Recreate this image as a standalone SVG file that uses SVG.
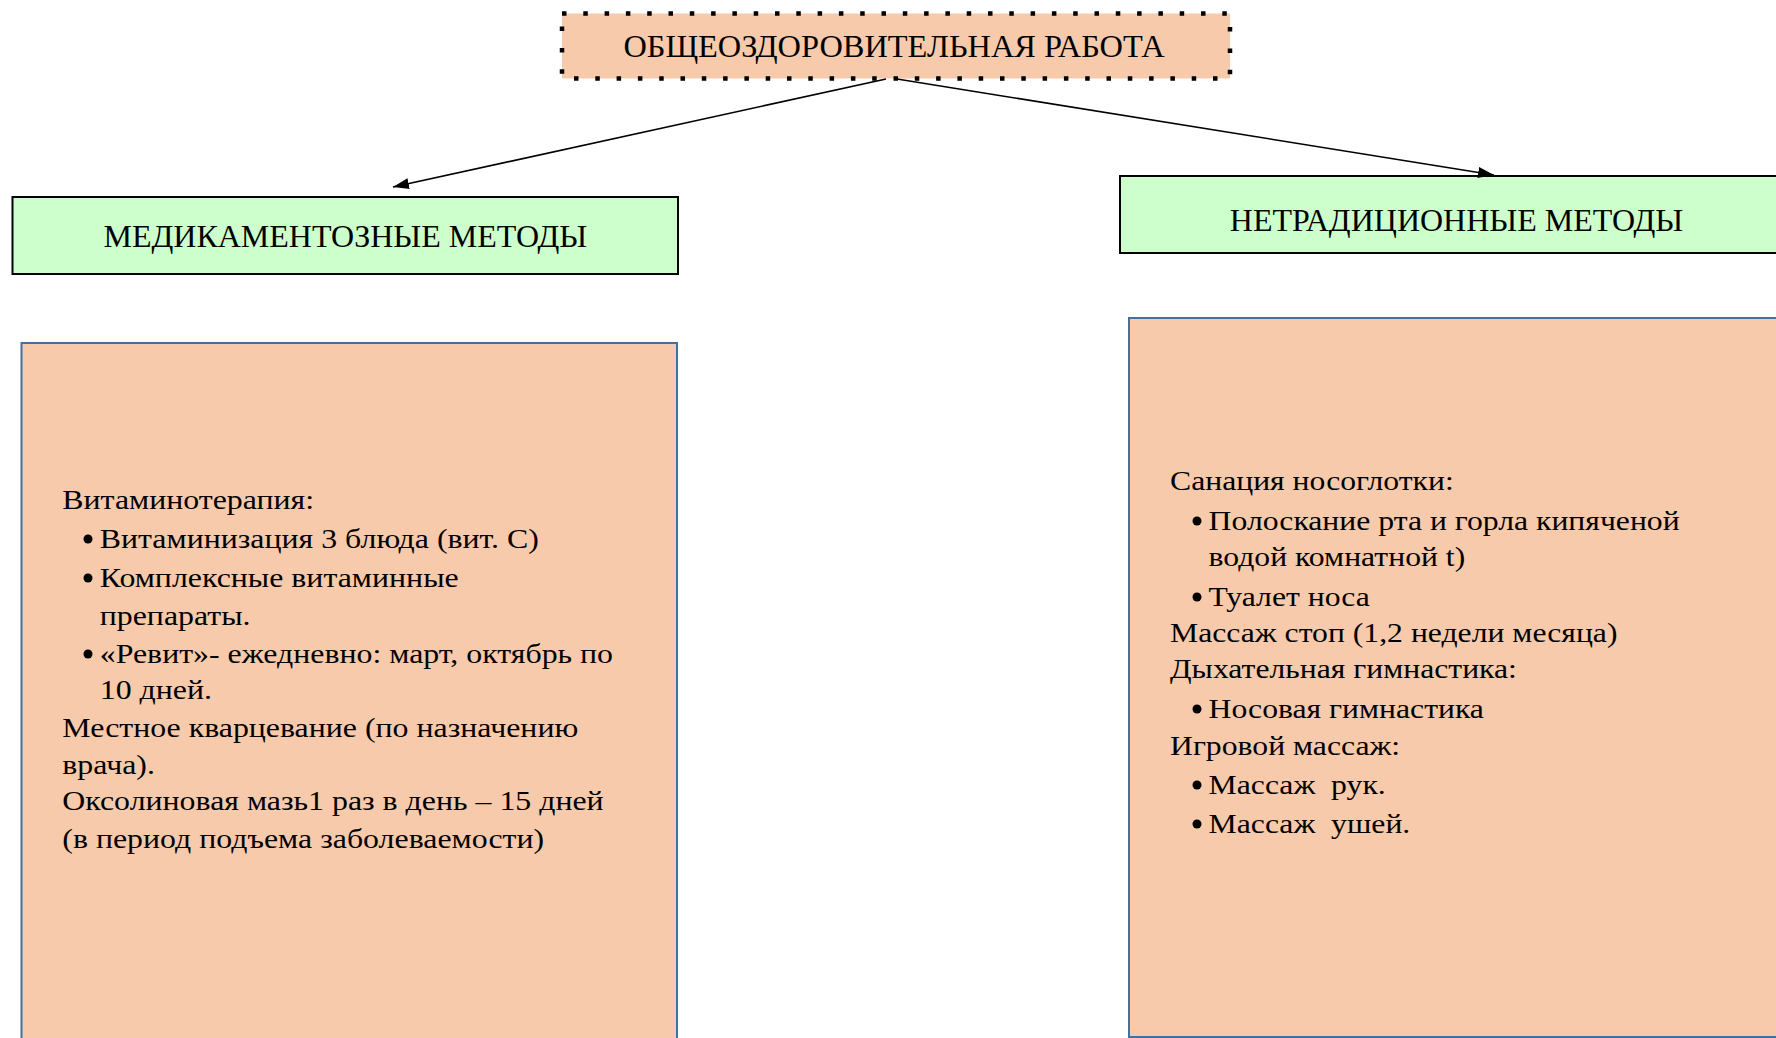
<svg xmlns="http://www.w3.org/2000/svg" width="1776" height="1038" viewBox="0 0 1776 1038">
  <style>
    .t { font-family: "Liberation Serif", "Times New Roman", serif; fill: #000; }
    .title { font-size: 32.4px; }
    .head { font-size: 32px; }
    .body { font-size: 28px; }
    .green { fill: #CCFFCC; stroke: #000; stroke-width: 2; }
    .peach { fill: #F7CAAC; stroke: #41719C; stroke-width: 2; }
    .bul { fill: #000; }
    .conn { stroke: #000; stroke-width: 1.6; fill: none; marker-end: url(#arr); }
  </style>
  <defs>
    <marker id="arr" viewBox="0 0 16 11" refX="16" refY="5.5" markerWidth="16" markerHeight="11" markerUnits="userSpaceOnUse" orient="auto">
      <path d="M0,0 L16,5.5 L0,11 z" fill="#000"/>
    </marker>
  </defs>
  <rect width="1776" height="1038" fill="#fff"/>

  <g id="node-title">
    <rect x="562" y="13.5" width="668" height="65" fill="#F7CAAC"/>
    <rect x="562" y="13.5" width="668" height="65" fill="none" stroke="#000" stroke-width="4.5" stroke-dasharray="4.5 16.8"/>
    <text class="t title" x="894" y="57" text-anchor="middle">ОБЩЕОЗДОРОВИТЕЛЬНАЯ РАБОТА</text>
  </g>

  <g id="node-med">
    <rect class="green" x="12.5" y="197" width="665.5" height="77"/>
    <text class="t head" x="345.3" y="247" text-anchor="middle">МЕДИКАМЕНТОЗНЫЕ МЕТОДЫ</text>
  </g>

  <g id="node-nontrad">
    <rect class="green" x="1120" y="176" width="670" height="77"/>
    <text class="t head" x="1456.5" y="231" text-anchor="middle">НЕТРАДИЦИОННЫЕ МЕТОДЫ</text>
  </g>

  <g id="node-med-list">
    <rect class="peach" x="21.5" y="343" width="655.5" height="710"/>
    <circle class="bul" cx="88" cy="539" r="4.5"/>
    <circle class="bul" cx="88" cy="578" r="4.5"/>
    <circle class="bul" cx="88" cy="654" r="4.5"/>
    <g transform="translate(62.3 0) scale(1.138 1)">
      <text class="t body" x="0" y="509">Витаминотерапия:</text>
      <text class="t body" x="32.9" y="548">Витаминизация 3 блюда (вит. С)</text>
      <text class="t body" x="32.9" y="587">Комплексные витаминные</text>
      <text class="t body" x="32.9" y="625">препараты.</text>
      <text class="t body" x="32.9" y="663">«Ревит»- ежедневно: март, октябрь по</text>
      <text class="t body" x="32.9" y="699">10 дней.</text>
      <text class="t body" x="0" y="737">Местное кварцевание (по назначению</text>
      <text class="t body" x="0" y="774">врача).</text>
      <text class="t body" x="0" y="810">Оксолиновая мазь1 раз в день – 15 дней</text>
      <text class="t body" x="0" y="848">(в период подъема заболеваемости)</text>
    </g>
  </g>

  <g id="node-nontrad-list">
    <rect class="peach" x="1129" y="318" width="670" height="719"/>
    <circle class="bul" cx="1197" cy="521" r="4.5"/>
    <circle class="bul" cx="1197" cy="597" r="4.5"/>
    <circle class="bul" cx="1197" cy="709" r="4.5"/>
    <circle class="bul" cx="1197" cy="785" r="4.5"/>
    <circle class="bul" cx="1197" cy="824" r="4.5"/>
    <g transform="translate(1170 0) scale(1.132 1)">
      <text class="t body" x="0" y="490">Санация носоглотки:</text>
      <text class="t body" x="34.1" y="530">Полоскание рта и горла кипяченой</text>
      <text class="t body" x="34.1" y="566">водой комнатной t)</text>
      <text class="t body" x="34.1" y="606">Туалет носа</text>
      <text class="t body" x="0" y="642">Массаж стоп (1,2 недели месяца)</text>
      <text class="t body" x="0" y="678">Дыхательная гимнастика:</text>
      <text class="t body" x="34.1" y="718">Носовая гимнастика</text>
      <text class="t body" x="0" y="755">Игровой массаж:</text>
      <text class="t body" x="34.1" y="794" xml:space="preserve">Массаж  рук.</text>
      <text class="t body" x="34.1" y="833" xml:space="preserve">Массаж  ушей.</text>
    </g>
  </g>

  <g id="connectors">
    <line class="conn" x1="886" y1="79" x2="393" y2="187"/>
    <line class="conn" x1="897" y1="79" x2="1494" y2="175"/>
  </g>
</svg>
